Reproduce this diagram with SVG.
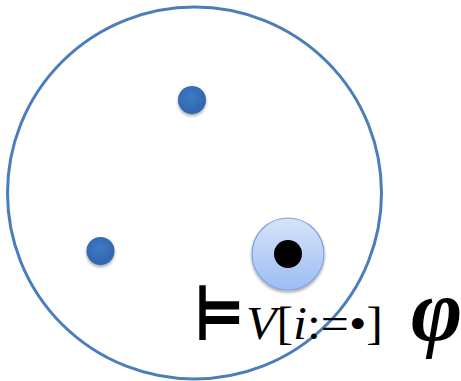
<svg xmlns="http://www.w3.org/2000/svg" width="461" height="381" viewBox="0 0 461 381">
<defs>
<radialGradient id="dotg" cx="0.45" cy="0.4" r="0.6">
<stop offset="0" stop-color="#3f78c4"/>
<stop offset="1" stop-color="#2f66ad"/>
</radialGradient>
<linearGradient id="hig" x1="0" y1="0" x2="0" y2="1">
<stop offset="0" stop-color="#d6e3fa"/>
<stop offset="1" stop-color="#9dbdf2"/>
</linearGradient>
<filter id="sh" x="-50%" y="-50%" width="200%" height="200%">
<feGaussianBlur in="SourceAlpha" stdDeviation="1.5"/>
<feOffset dy="2" result="b"/>
<feComponentTransfer><feFuncA type="linear" slope="0.35"/></feComponentTransfer>
<feMerge><feMergeNode/><feMergeNode in="SourceGraphic"/></feMerge>
</filter>
<style>
.dot{fill:url(#dotg);filter:url(#sh)}
.t{font-family:"Liberation Serif","DejaVu Serif",serif;fill:#000}
</style>
</defs>
<rect width="461" height="381" fill="#fff"/>
<g id="domain">
<ellipse cx="194.5" cy="193" rx="187" ry="186" fill="none" stroke="#4a7ebb" stroke-width="3"/>
</g>
<g id="dot-top"><circle class="dot" cx="192" cy="100" r="14"/></g>
<g id="dot-left"><circle class="dot" cx="100.5" cy="251" r="14"/></g>
<g id="dot-selected">
<circle cx="288" cy="254" r="36" fill="url(#hig)" stroke="#7fa4dc" stroke-width="1.2" filter="url(#sh)"/>
<circle cx="288" cy="254" r="14" fill="#000"/>
</g>
<g id="formula">
<text class="t" font-size="75" font-family="DejaVu Sans" font-weight="bold" transform="translate(193,340) scale(0.79,1)">⊨</text>
<text class="t" x="246" y="339" font-size="46" textLength="137" lengthAdjust="spacingAndGlyphs"><tspan font-style="italic">V</tspan>[<tspan font-style="italic">i</tspan>:=•]</text>
<text class="t" x="411" y="340" font-size="88" font-style="italic" font-weight="bold">φ</text>
</g>
</svg>
